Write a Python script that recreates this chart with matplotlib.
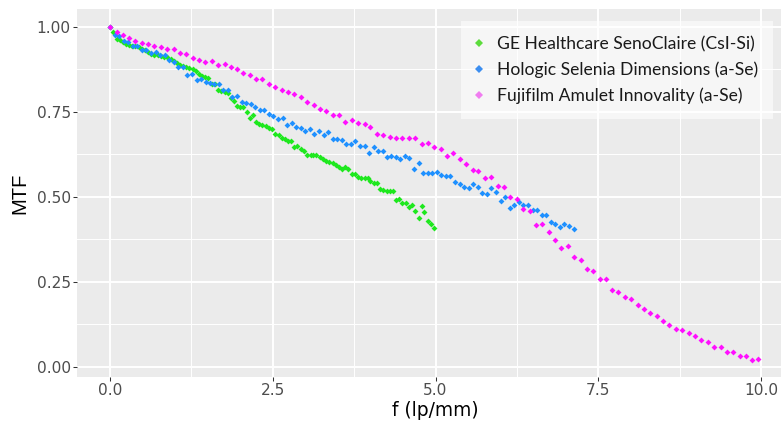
import matplotlib
matplotlib.use("Agg")
import matplotlib.pyplot as plt
from matplotlib.lines import Line2D

# MTF curves
ge_freq = [0.00, 0.05, 0.10, 0.15, 0.20, 0.24, 0.29, 0.34, 0.39, 0.44,
           0.49, 0.54, 0.59, 0.63, 0.68, 0.73, 0.78, 0.83, 0.88, 0.93,
           0.98, 1.03, 1.07, 1.12, 1.17, 1.22, 1.27, 1.32, 1.37, 1.42,
           1.46, 1.51, 1.56, 1.61, 1.66, 1.71, 1.76, 1.81, 1.86, 1.90,
           1.95, 2.00, 2.05, 2.10, 2.15, 2.20, 2.25, 2.29, 2.34, 2.39,
           2.44, 2.49, 2.54, 2.59, 2.64, 2.69, 2.73, 2.78, 2.83, 2.88,
           2.93, 2.98, 3.03, 3.08, 3.12, 3.17, 3.22, 3.27, 3.32, 3.37,
           3.42, 3.47, 3.52, 3.56, 3.61, 3.66, 3.71, 3.76, 3.81, 3.86,
           3.91, 3.96, 4.00, 4.05, 4.10, 4.15, 4.20, 4.25, 4.30, 4.35,
           4.39, 4.44, 4.49, 4.54, 4.59, 4.64, 4.69, 4.74, 4.79, 4.83,
           4.88, 4.93, 4.98]
ge_mtf = [1.000, 0.984, 0.963, 0.960, 0.955, 0.950, 0.945, 0.943, 0.942, 0.940,
          0.933, 0.931, 0.925, 0.920, 0.917, 0.917, 0.914, 0.912, 0.910, 0.905,
          0.898, 0.893, 0.888, 0.884, 0.882, 0.879, 0.876, 0.871, 0.861, 0.855,
          0.853, 0.850, 0.832, 0.830, 0.814, 0.810, 0.808, 0.806, 0.789, 0.781,
          0.768, 0.764, 0.765, 0.749, 0.731, 0.739, 0.719, 0.714, 0.711, 0.709,
          0.701, 0.700, 0.684, 0.682, 0.672, 0.671, 0.665, 0.663, 0.646, 0.649,
          0.639, 0.633, 0.622, 0.624, 0.624, 0.624, 0.618, 0.612, 0.604, 0.603,
          0.598, 0.592, 0.587, 0.582, 0.586, 0.580, 0.568, 0.567, 0.557, 0.556,
          0.556, 0.556, 0.545, 0.541, 0.541, 0.524, 0.520, 0.518, 0.518, 0.518,
          0.490, 0.494, 0.481, 0.481, 0.469, 0.477, 0.457, 0.437, 0.473, 0.455,
          0.429, 0.420, 0.408]

holo_freq = [0.00, 0.07, 0.14, 0.21, 0.28, 0.35, 0.42, 0.49, 0.56, 0.63,
             0.70, 0.77, 0.84, 0.91, 0.98, 1.05, 1.12, 1.19, 1.26, 1.33,
             1.40, 1.47, 1.53, 1.60, 1.67, 1.74, 1.81, 1.88, 1.95, 2.02,
             2.09, 2.16, 2.23, 2.30, 2.37, 2.44, 2.51, 2.58, 2.65, 2.72,
             2.79, 2.86, 2.93, 3.00, 3.07, 3.14, 3.21, 3.28, 3.35, 3.42,
             3.49, 3.56, 3.63, 3.70, 3.77, 3.84, 3.91, 3.98, 4.05, 4.12,
             4.19, 4.26, 4.32, 4.39, 4.46, 4.53, 4.60, 4.67, 4.74, 4.81,
             4.88, 4.95, 5.02, 5.09, 5.16, 5.23, 5.30, 5.37, 5.44, 5.51,
             5.58, 5.65, 5.72, 5.79, 5.86, 5.93, 6.00, 6.07, 6.14, 6.21,
             6.28, 6.35, 6.42, 6.49, 6.56, 6.63, 6.70, 6.77, 6.84, 6.91,
             6.98, 7.05, 7.12]
holo_mtf = [1.000, 0.975, 0.972, 0.959, 0.956, 0.944, 0.943, 0.931, 0.932, 0.922,
            0.925, 0.916, 0.916, 0.902, 0.895, 0.881, 0.881, 0.858, 0.860, 0.843,
            0.847, 0.836, 0.833, 0.830, 0.830, 0.815, 0.815, 0.793, 0.796, 0.779,
            0.775, 0.772, 0.764, 0.755, 0.755, 0.743, 0.738, 0.729, 0.731, 0.710,
            0.716, 0.706, 0.702, 0.694, 0.698, 0.684, 0.692, 0.681, 0.690, 0.671,
            0.671, 0.666, 0.655, 0.655, 0.663, 0.650, 0.649, 0.629, 0.647, 0.634,
            0.635, 0.618, 0.620, 0.618, 0.612, 0.620, 0.614, 0.580, 0.599, 0.569,
            0.569, 0.571, 0.573, 0.565, 0.562, 0.561, 0.544, 0.536, 0.528, 0.525,
            0.538, 0.528, 0.511, 0.507, 0.525, 0.513, 0.487, 0.498, 0.468, 0.477,
            0.485, 0.476, 0.475, 0.460, 0.460, 0.445, 0.445, 0.426, 0.420, 0.411,
            0.420, 0.415, 0.404]

fuji_freq = [0.00, 0.10, 0.20, 0.29, 0.39, 0.49, 0.59, 0.68, 0.78, 0.88,
             0.98, 1.07, 1.17, 1.27, 1.37, 1.46, 1.56, 1.66, 1.76, 1.86,
             1.95, 2.05, 2.15, 2.25, 2.34, 2.44, 2.54, 2.64, 2.73, 2.83,
             2.93, 3.03, 3.13, 3.22, 3.32, 3.42, 3.52, 3.61, 3.71, 3.81,
             3.91, 4.00, 4.10, 4.20, 4.30, 4.39, 4.49, 4.59, 4.69, 4.79,
             4.88, 4.98, 5.08, 5.18, 5.27, 5.37, 5.47, 5.57, 5.66, 5.76,
             5.86, 5.96, 6.05, 6.15, 6.25, 6.35, 6.45, 6.54, 6.64, 6.74,
             6.84, 6.93, 7.03, 7.13, 7.23, 7.32, 7.42, 7.52, 7.62, 7.71,
             7.81, 7.91, 8.01, 8.11, 8.20, 8.30, 8.40, 8.50, 8.59, 8.69,
             8.79, 8.89, 8.98, 9.08, 9.18, 9.28, 9.38, 9.47, 9.57, 9.67,
             9.77, 9.86, 9.96]
fuji_mtf = [1.000, 0.983, 0.976, 0.967, 0.959, 0.952, 0.949, 0.942, 0.939, 0.933,
            0.933, 0.922, 0.921, 0.909, 0.902, 0.897, 0.899, 0.888, 0.889, 0.881,
            0.875, 0.863, 0.859, 0.845, 0.847, 0.831, 0.823, 0.815, 0.808, 0.802,
            0.793, 0.778, 0.770, 0.759, 0.751, 0.741, 0.741, 0.721, 0.726, 0.718,
            0.715, 0.704, 0.685, 0.681, 0.677, 0.674, 0.672, 0.672, 0.673, 0.654,
            0.657, 0.645, 0.641, 0.621, 0.628, 0.610, 0.595, 0.579, 0.575, 0.554,
            0.559, 0.530, 0.528, 0.498, 0.492, 0.463, 0.458, 0.416, 0.420, 0.395,
            0.374, 0.348, 0.355, 0.324, 0.314, 0.287, 0.280, 0.259, 0.259, 0.227,
            0.220, 0.205, 0.198, 0.180, 0.170, 0.158, 0.148, 0.135, 0.123, 0.110,
            0.108, 0.098, 0.091, 0.078, 0.073, 0.057, 0.057, 0.043, 0.043, 0.030,
            0.030, 0.020, 0.023]

labels = ["GE Healthcare SenoClaire (CsI-Si)",
          "Hologic Selenia Dimensions (a-Se)",
          "Fujifilm Amulet Innovality (a-Se)"]
colors = ["#1ee81e", "#1e90ff", "#ff10ff"]
key_colors = ["#5cdc3c", "#3c8ef0", "#f07cf0"]

x_ticks = [0, 2.5, 5, 7.5, 10]
x_ticklabels = ["0.0", "2.5", "5.0", "7.5", "10.0"]
y_ticks = [0, 0.25, 0.5, 0.75, 1.0]
y_ticklabels = ["0.00", "0.25", "0.50", "0.75", "1.00"]

fig = plt.figure(figsize=(7.81, 4.23), dpi=100)
ax = fig.add_axes([77 / 781, 46 / 423, 704 / 781, 368 / 423])
ax.set_facecolor("#ebebeb")

series = [(ge_freq, ge_mtf), (holo_freq, holo_mtf), (fuji_freq, fuji_mtf)]
for (fx, fy), c in zip(series, colors):
    ax.plot(fx, fy, ls="none", marker="D", ms=3.0, mew=0, color=c, zorder=3)

ax.set_xlim(-0.507, 10.307)
ax.set_ylim(-0.0303, 1.052)
ax.set_xticks(x_ticks)
ax.set_xticklabels(x_ticklabels)
ax.set_yticks(y_ticks)
ax.set_yticklabels(y_ticklabels)
ax.set_xticks([1.25, 3.75, 6.25, 8.75], minor=True)
ax.set_yticks([0.125, 0.375, 0.625, 0.875], minor=True)

ax.grid(which="major", color="white", lw=1.4)
ax.grid(which="minor", color="white", lw=0.7)
ax.set_axisbelow(True)
for s in ax.spines.values():
    s.set_visible(False)

ax.tick_params(which="major", length=2.9, width=0.75, color="#333333",
               labelsize=11.1, labelcolor="#4d4d4d", pad=1.5)
ax.tick_params(which="minor", length=0)

ax.set_xlabel("f (lp/mm)", fontsize=13.4, color="black")
ax.xaxis.set_label_coords(0.5085, -0.065)
ax.set_ylabel("MTF", fontsize=14.5, family="Liberation Sans", color="black")
ax.yaxis.label.set_va("center")
ax.yaxis.set_label_coords(-0.081, 0.5)

handles = [Line2D([], [], ls="none", marker="D", ms=3.6, mew=0, color=c)
           for c in key_colors]
leg = ax.legend(handles, labels, loc="upper left",
                bbox_to_anchor=(0.5455, 0.9674), borderaxespad=0,
                frameon=True, facecolor="white", framealpha=0.6,
                edgecolor="none", fancybox=False, borderpad=0.85,
                handlelength=0.35, handletextpad=0.88, labelspacing=0.53,
                prop={"family": "Lato", "size": 12.6})
for t in leg.get_texts():
    t.set_color("#1a1a1a")

fig.savefig("out.png", dpi=100)
